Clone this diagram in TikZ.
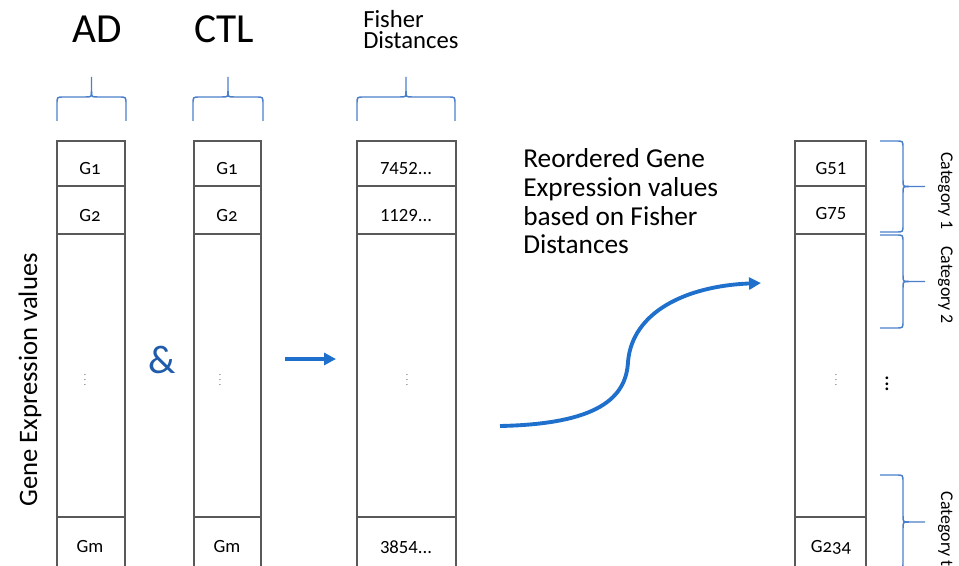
\documentclass[tikz,border=0pt]{standalone}
\usepackage{fontspec}
\setmainfont{Carlito}
\usetikzlibrary{arrows.meta}

\definecolor{framegray}{HTML}{595959}
\definecolor{bracebl}{HTML}{4A7FCB}
\definecolor{arrowbl}{HTML}{1F6FCC}
\definecolor{ampbl}{HTML}{1F5BAA}

\begin{document}
\begin{tikzpicture}[
    x=0.75pt, y=-0.75pt,
    col/.style={draw=framegray, line width=1.4pt},
    brace/.style={draw=bracebl, line width=1.1pt},
    cell/.style={anchor=base, font=\fontsize{14}{16}\selectfont},
    oldnum/.style={cell, font=\fontsize{14}{16}\selectfont\addfontfeatures{Numbers=OldStyle}},
    vdot/.style={font=\fontsize{7}{8}\selectfont, text=framegray},
    head/.style={anchor=base, font=\fontsize{31}{36}\selectfont},
    catlbl/.style={anchor=base, rotate=-90, font=\fontsize{13.4}{16}\selectfont},
    flow/.style={draw=arrowbl, -{Triangle[length=9pt, width=9pt]}},
    ]

    \useasboundingbox (0,0) rectangle (959,566);
    \clip (0,0) rectangle (959,566);

    % columns
    \foreach \xl/\xr in {57/125, 194/261, 357/456, 795/866}{
    \draw[col] (\xl,575) -- (\xl,141) -- (\xr,141) -- (\xr,575);
    \foreach \yy in {186, 234, 517}{
        \draw[col] (\xl,\yy) -- (\xr,\yy);
    }
    }

    % braces over the columns
    \foreach \xl/\xr in {57/126, 193/263, 357/455}{
    \pgfmathsetmacro{\xm}{(\xl+\xr)/2}
    \draw[brace] (\xl,121) -- (\xl,104) .. controls (\xl,97) .. (\xl+7,97)
        -- (\xm-6,97) .. controls (\xm,97) .. (\xm,91) -- (\xm,77);
    \draw[brace] (\xr,121) -- (\xr,104) .. controls (\xr,97) .. (\xr-7,97)
        -- (\xm+6,97) .. controls (\xm,97) .. (\xm,91);
    }

    % braces beside the reordered column
    \foreach \yt/\yb in {141/232, 235/328, 475/569}{
    \pgfmathsetmacro{\ym}{(\yt+\yb)/2}
    \draw[brace] (880,\yt) -- (896,\yt) .. controls (903,\yt) .. (903,\yt+7)
        -- (903,\ym-6) .. controls (903,\ym) .. (909,\ym) -- (925,\ym);
    \draw[brace] (880,\yb) -- (896,\yb) .. controls (903,\yb) .. (903,\yb-7)
        -- (903,\ym+6) .. controls (903,\ym) .. (909,\ym);
    }

    % headings
    \node[head] (adhead) at (97,43) {AD};
    \node[head] (ctlhead) at (224,43) {CTL};
    \node[anchor=base west, align=left, inner sep=0pt,
        font=\fontsize{18.5}{15.8}\selectfont] (fdhead) at (363,49)
        {Fisher\\Distances};

    \node[anchor=base, rotate=90, inner sep=0pt,
        font=\fontsize{20}{24}\selectfont] (gev) at (37,380)
        {Gene Expression values};

    % AD column
    \node[oldnum] (ad1) at (90,175) {G1};
    \node[oldnum] (ad2) at (90,222) {G2};
    \node[vdot] (addots) at (85,376) {$\vdots$};
    \node[cell] (adm) at (90,552) {Gm};

    % CTL column
    \node[oldnum] (ctl1) at (227,175) {G1};
    \node[oldnum] (ctl2) at (227,222) {G2};
    \node[vdot] (ctldots) at (220,376) {$\vdots$};
    \node[cell] (ctlm) at (227,552) {Gm};

    % Fisher distance column
    \node[cell] (fd1) at (406,175) {7452...};
    \node[cell] (fd2) at (406,222) {1129...};
    \node[vdot] (fddots) at (407,376) {$\vdots$};
    \node[cell] (fdm) at (406,553) {3854...};

    % reordered column
    \node[cell] (ro1) at (831,175) {G51};
    \node[cell] (ro2) at (831,220) {G75};
    \node[vdot] (rodots) at (836,376) {$\vdots$};
    \node[oldnum] (rom) at (831,552) {G234};

    \node[font=\fontsize{17}{18}\selectfont\boldmath] (moredots) at (887,380) {$\vdots$};

    \node[catlbl] (cat1) at (941,191) {Category 1};
    \node[catlbl] (cat2) at (941,285) {Category 2};
    \node[catlbl, anchor=base west] (catt) at (941,487) {Category t};

    \node[font=\fontsize{30}{34}\selectfont, text=ampbl] (amp) at (162,360) {\&};

    \node[anchor=base west, align=left, inner sep=0pt,
        font=\fontsize{20.5}{21.6}\selectfont] (reord) at (523,254)
        {Reordered Gene\\Expression values\\based on Fisher\\Distances};

    % arrows
    \coordinate (arrS) at (285,359);
    \coordinate (arrE) at (336,359);
    \draw[flow, line width=3.6pt] (arrS) -- (arrE);

    \coordinate (curS) at (500,426);
    \coordinate (curE) at (761,283);
    \draw[flow, line width=2.9pt] (curS)
        .. controls (598,424) and (626,398) .. (628,362)
        .. controls (632,312) and (686,286) .. (curE);

\end{tikzpicture}
\end{document}
